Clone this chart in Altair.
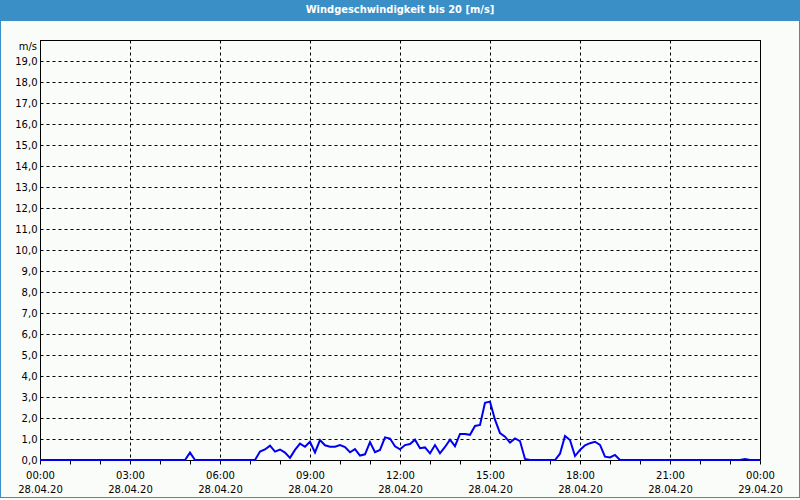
import altair as alt
import pandas as pd

# 10-minute samples from 28.04.20 00:00 to 29.04.20 00:00
minutes = list(range(0, 1441, 10))
speed = [
    0, 0, 0, 0, 0, 0, 0, 0, 0, 0, 0, 0,                                   # 00:00-01:50
    0, 0, 0, 0, 0, 0, 0, 0, 0, 0, 0, 0,                                   # 02:00-03:50
    0, 0, 0, 0, 0, 0, 0.35, 0, 0, 0, 0, 0,                                # 04:00-05:50
    0, 0, 0, 0, 0, 0, 0, 0, 0.4, 0.5, 0.68, 0.4,                          # 06:00-07:50
    0.5, 0.35, 0.1, 0.48, 0.78, 0.63, 0.87, 0.36, 0.95, 0.7, 0.63, 0.63,  # 08:00-09:50
    0.71, 0.62, 0.37, 0.52, 0.21, 0.27, 0.85, 0.37, 0.48, 1.08, 1.02, 0.65,  # 10:00-11:50
    0.51, 0.71, 0.76, 0.97, 0.56, 0.6, 0.32, 0.71, 0.32, 0.62, 0.97, 0.66,   # 12:00-13:50
    1.24, 1.24, 1.2, 1.62, 1.67, 2.72, 2.78, 1.92, 1.28, 1.11, 0.83, 1.03,   # 14:00-15:50
    0.9, 0.05, 0, 0, 0, 0, 0, 0, 0.3, 1.14, 0.95, 0.19,                   # 16:00-17:50
    0.48, 0.7, 0.8, 0.87, 0.72, 0.16, 0.12, 0.24, 0, 0, 0, 0,             # 18:00-19:50
    0, 0, 0, 0, 0, 0, 0, 0, 0, 0, 0, 0,                                   # 20:00-21:50
    0, 0, 0, 0, 0, 0, 0, 0, 0, 0.05, 0, 0,                                # 22:00-23:50
    0,                                                                    # 00:00
]

time_labels = ["00:00", "03:00", "06:00", "09:00", "12:00", "15:00", "18:00", "21:00", "00:00"]
date_labels = ["28.04.20"] * 8 + ["29.04.20"]
y_ticks = list(range(0, 20))
y_unit = "m/s"
title_text = "Windgeschwindigkeit bis 20 [m/s]"

df = pd.DataFrame({"hour": [m / 60 for m in minutes], "speed": speed})
one = pd.DataFrame({"k": [0]})

FONT = "DejaVu Sans"
BLUE = "#3b8fc7"

t_arr = "[" + ",".join("'%s'" % t for t in time_labels) + "]"
d_arr = "[" + ",".join("'%s'" % d for d in date_labels) + "]"
x_label_expr = (
    "datum.value % 3 == 0 ? [" + t_arr + "[datum.value / 3], " + d_arr + "[datum.value / 3]] : ''"
)

x_enc = alt.X(
    "hour:Q",
    scale=alt.Scale(domain=[0, 24], nice=False, zero=False),
    axis=alt.Axis(
        values=list(range(0, 25)),
        title=None,
        labelExpr=x_label_expr,
        labelOverlap=False,
        labelFlush=False,
        labelFont=FONT,
        labelFontSize=10,
        labelColor="#000000",
        labelBaseline="top",
        labelLineHeight=14,
        labelPadding=6,
        tickSize=4,
        tickColor="#000000",
        domainColor="#000000",
        grid=True,
        gridColor="#000000",
        gridDash=[3, 3],
        gridOpacity={"condition": {"test": "datum.value % 3 == 0", "value": 1}, "value": 0},
    ),
)

y_enc = alt.Y(
    "speed:Q",
    scale=alt.Scale(domain=[0, 20], nice=False, zero=True),
    axis=alt.Axis(
        values=y_ticks,
        title=None,
        labelExpr="replace(format(datum.value, '.1f'), '.', ',')",
        labelFont=FONT,
        labelFontSize=10,
        labelColor="#000000",
        labelPadding=3,
        labelFlush=False,
        labelOverlap=False,
        ticks=False,
        tickSize=0,
        domainColor="#000000",
        grid=True,
        gridColor="#000000",
        gridDash=[3, 3],
    ),
)

line = alt.Chart(df).mark_line(color="#0000f0", strokeWidth=2).encode(x=x_enc, y=y_enc)

base = alt.Chart(one)
top_rule = base.mark_rule(color="#000000", strokeWidth=1).encode(
    x=alt.value(0), x2=alt.value(720), y=alt.value(0.5)
)
right_rule = base.mark_rule(color="#000000", strokeWidth=1).encode(
    x=alt.value(720.5), y=alt.value(0), y2=alt.value(420)
)
title_bar = base.mark_rect(color=BLUE).encode(
    x=alt.value(-40), x2=alt.value(760), y=alt.value(-40), y2=alt.value(-19)
)
title = base.mark_text(
    text=title_text, color="#ffffff", font="DejaVu Sans Condensed, Liberation Sans, sans-serif",
    fontSize=11, fontWeight="bold", align="center", baseline="middle"
).encode(x=alt.value(360), y=alt.value(-30))
unit = base.mark_text(
    text=y_unit, color="#000000", font=FONT, fontSize=10, align="right", baseline="middle"
).encode(x=alt.value(-3), y=alt.value(7))
left_border = base.mark_rule(color=BLUE, strokeWidth=1).encode(
    x=alt.value(-39.5), y=alt.value(-19), y2=alt.value(458)
)
right_border = base.mark_rule(color=BLUE, strokeWidth=1).encode(
    x=alt.value(759.5), y=alt.value(-19), y2=alt.value(458)
)
bottom_border = base.mark_rule(color=BLUE, strokeWidth=1).encode(
    x=alt.value(-40), x2=alt.value(760), y=alt.value(457.5)
)

chart = alt.layer(
    line, top_rule, right_rule, title_bar, title, unit, left_border, right_border, bottom_border
).properties(
    width=720,
    height=420,
    autosize=alt.AutoSizeParams(type="none"),
    padding={"left": 40, "top": 40, "right": 40, "bottom": 40},
    background="#fafcfa",
).configure_view(stroke=None)

chart.save("out.html", embed_options={"renderer": "svg", "actions": False})
